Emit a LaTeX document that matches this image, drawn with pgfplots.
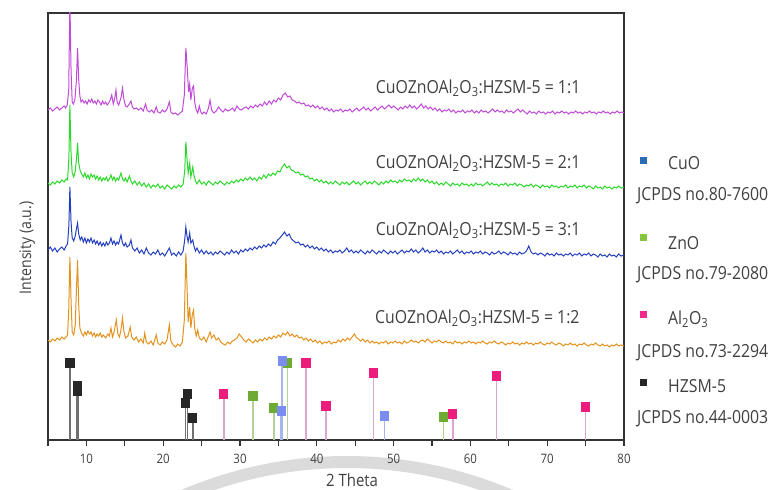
\documentclass[border=0pt]{standalone}
\usepackage{pgfplots}
\pgfplotsset{compat=1.18}
\usepackage{fontspec}
\setmainfont{Open Sans}[FakeStretch=0.88]

\definecolor{cA}{HTML}{C04BD8}
\definecolor{cB}{HTML}{2BD82B}
\definecolor{cC}{HTML}{2440C0}
\definecolor{cD}{HTML}{E3921E}
\definecolor{pinkM}{HTML}{EC1C7C}
\definecolor{pinkL}{HTML}{D8A8D0}
\definecolor{grnM}{HTML}{6EAB35}
\definecolor{grnL}{HTML}{B5D19A}
\definecolor{bluM}{HTML}{7B8CF0}
\definecolor{bluL}{HTML}{A8B4F0}
\definecolor{blkM}{HTML}{262626}
\definecolor{blkL}{HTML}{707070}
\definecolor{legCuO}{HTML}{2A6DB5}
\definecolor{legZnO}{HTML}{86C440}
\definecolor{legAl}{HTML}{F0288C}
\definecolor{txt}{HTML}{404040}

\newcommand\lab{\fontsize{18bp}{21bp}\selectfont}

\begin{document}
\begin{tikzpicture}
\useasboundingbox (-48bp,-50bp) rectangle (723bp,440bp);
% faint watermark arc of the source page
\draw[black!14, line width=12bp] (299bp,-437.8bp) ++(66:415.8bp) arc[start angle=66, end angle=114, radius=415.8bp];
\begin{axis}[
  at={(0,0)}, anchor=south west,
  scale only axis, width=576bp, height=427bp,
  xmin=5, xmax=80, ymin=0, ymax=427,
  xtick={10,20,...,80}, minor xtick={5,15,...,75},
  xtick pos=bottom, ytick=\empty,
  tick align=outside, major tick length=6bp, minor tick length=6bp,
  every tick/.style={line width=1.2bp, black!80},
  axis line style={line width=1.3bp, black!80},
  /pgf/number format/assume math mode=true,
  tick label style={font=\fontsize{13bp}{15bp}\selectfont, text=txt},
  xticklabel style={yshift=-5bp},
  xlabel={2 Theta}, ylabel={Intensity (a.u.)},
  xlabel style={at={(axis description cs:0.528,-0.094)}, anchor=center, font=\fontsize{17bp}{20bp}\selectfont, text=txt},
  ylabel style={at={(axis description cs:-0.036,0.45)}, anchor=center, font=\fontsize{16bp}{19bp}\selectfont, text=txt},
]
% ---- 1:1 (purple), offset 330
\addplot[cA, line width=1bp, y filter/.expression={y+330}] coordinates {
(5,0)(5.3,2)(5.6,-1)(5.9,1)(6.2,3)(6.5,0)(6.8,2)(7.1,4)(7.3,2)(7.5,5)(7.7,20)(7.85,110)(8.0,40)(8.15,8)(8.3,6)(8.5,10)(8.7,30)(8.85,62)(9.0,30)(9.15,14)(9.3,8)(9.5,10)(9.7,7)(9.9,9)(10.1,6)(10.3,10)(10.5,8)(10.7,11)(10.9,7)(11.1,9)(11.3,6)(11.5,10)(11.7,8)(11.9,5)(12.1,9)(12.3,6)(12.5,8)(12.7,5)(12.9,7)(13.1,10)(13.3,15)(13.5,6)(13.7,12)(13.85,20)(14.0,8)(14.2,5)(14.5,12)(14.7,22)(14.9,10)(15.1,4)(15.3,3)(15.5,5)(15.8,9)(16.0,3)(16.2,1)(16.5,2)(16.8,0)(17.1,2)(17.4,-1)(17.7,6)(17.9,0)(18.2,-2)(18.5,0)(18.8,-3)(19.1,3)(19.3,-2)(19.6,-3)(19.9,0)(20.2,-2)(20.5,1)(20.8,8)(21.0,-2)(21.3,-4)(21.6,-3)(21.9,-5)(22.2,-3)(22.5,-1)(22.75,15)(22.95,62)(23.15,40)(23.3,18)(23.45,26)(23.6,10)(23.8,22)(23.95,24)(24.1,8)(24.3,0)(24.5,-3)(24.7,4)(24.9,-2)(25.1,-4)(25.3,-2)(25.6,-4)(25.9,2)(26.1,10)(26.3,0)(26.6,-3)(26.9,-1)(27.2,3)(27.5,0)(27.8,-2)(28.1,1)(28.4,-1)(28.7,0)(29.0,2)(29.3,-1)(29.6,4)(29.9,1)(30.2,0)(30.5,2)(30.8,3)(31.1,1)(31.4,4)(31.7,2)(32.0,5)(32.3,3)(32.6,6)(32.9,4)(33.2,8)(33.5,5)(33.8,9)(34.1,6)(34.4,10)(34.7,8)(35.0,12)(35.3,10)(35.6,15)(35.9,17)(36.2,13)(36.5,14)(36.8,10)(37.1,9)(37.4,7)(37.7,8)(38.0,6)(38.3,7)(38.6,4)(38.9,5)(39.2,3)(39.5,5)(39.8,2)(40.1,4)(40.4,1)(40.7,3)(41.0,0)(41.3,2)(41.6,-1)(41.9,1)(42.2,-2)(42.5,0)(42.8,-1)(43.1,1)(43.4,-2)(43.7,0)(44.0,-1)(44.3,1)(44.6,-2)(44.9,0)(45.2,2)(45.5,-1)(45.8,1)(46.1,3)(46.4,0)(46.7,2)(47.0,-1)(47.3,1)(47.6,3)(47.9,0)(48.2,2)(48.5,4)(48.8,1)(49.1,3)(49.4,5)(49.7,2)(50.0,4)(50.3,2)(50.6,0)(50.9,3)(51.2,1)(51.5,4)(51.8,2)(52.1,5)(52.4,2)(52.7,4)(53.0,1)(53.3,3)(53.6,6)(53.9,2)(54.2,4)(54.5,1)(54.8,3)(55.1,0)(55.4,2)(55.7,-1)(56.0,1)(56.3,-2)(56.6,0)(56.9,-1)(57.2,1)(57.5,-2)(57.8,0)(58.1,-3)(58.4,-1)(58.7,-2)(59.0,0)(59.3,-3)(59.6,-1)(59.9,-2)(60.2,0)(60.5,-3)(60.8,-1)(61.1,-3)(61.4,0)(61.7,-2)(62.0,-1)(62.3,-3)(62.6,-1)(62.9,1)(63.2,-2)(63.5,0)(63.8,-2)(64.1,-1)(64.4,-3)(64.7,0)(65.0,-2)(65.3,-1)(65.6,-3)(65.9,-1)(66.2,1)(66.5,-2)(66.8,0)(67.1,-2)(67.4,-4)(67.7,-1)(68.0,-3)(68.3,-2)(68.6,-4)(68.9,-1)(69.2,-3)(69.5,-2)(69.8,-4)(70.1,-2)(70.4,-3)(70.7,-1)(71.0,-4)(71.3,-2)(71.6,-3)(71.9,-1)(72.2,-3)(72.5,-2)(72.8,-4)(73.1,-2)(73.4,-3)(73.7,-1)(74.0,-3)(74.3,-2)(74.6,-4)(74.9,-2)(75.2,-3)(75.5,-1)(75.8,-3)(76.1,-2)(76.4,-4)(76.7,-2)(77.0,-3)(77.3,-1)(77.6,-3)(77.9,-2)(78.2,-4)(78.5,-2)(78.8,-3)(79.1,-1)(79.4,-3)(79.7,-2)(80.0,-3)
};
% ---- 2:1 (green), offset 257
\addplot[cB, line width=1bp, y filter/.expression={y+257}] coordinates {
(5,0)(5.3,-2)(5.6,1)(5.9,-1)(6.2,2)(6.5,0)(6.8,3)(7.1,1)(7.35,4)(7.55,3)(7.72,25)(7.85,78)(8.0,30)(8.15,10)(8.35,6)(8.55,12)(8.72,25)(8.85,40)(9.0,20)(9.2,12)(9.4,9)(9.6,6)(9.8,10)(10.0,5)(10.2,8)(10.4,4)(10.6,9)(10.8,6)(11.0,8)(11.2,4)(11.4,7)(11.6,3)(11.8,6)(12.0,2)(12.2,5)(12.4,3)(12.6,6)(12.8,2)(13.0,4)(13.2,8)(13.4,3)(13.6,6)(13.8,2)(14.0,5)(14.2,3)(14.5,10)(14.7,4)(14.9,2)(15.1,5)(15.3,1)(15.6,7)(15.8,2)(16.0,-1)(16.3,2)(16.6,-2)(16.9,1)(17.2,-3)(17.5,0)(17.8,-4)(18.1,-1)(18.4,-5)(18.7,-2)(19.0,-4)(19.3,-1)(19.6,-5)(19.9,-3)(20.2,-6)(20.5,-2)(20.8,-4)(21.1,-6)(21.4,-3)(21.7,-5)(22.0,-2)(22.3,-4)(22.6,-1)(22.8,12)(22.95,41)(23.1,25)(23.25,10)(23.45,20)(23.6,6)(23.85,16)(24.0,8)(24.2,2)(24.4,-1)(24.7,3)(25.0,-1)(25.3,1)(25.6,-2)(25.9,2)(26.2,0)(26.5,-2)(26.8,1)(27.1,-1)(27.4,2)(27.7,0)(28.0,-2)(28.3,1)(28.6,-1)(28.9,2)(29.2,0)(29.5,3)(29.8,1)(30.1,4)(30.4,2)(30.7,5)(31.0,3)(31.3,6)(31.6,3)(31.9,5)(32.2,2)(32.5,6)(32.8,4)(33.1,8)(33.4,5)(33.7,9)(34.0,7)(34.3,10)(34.6,8)(34.9,12)(35.2,11)(35.5,16)(35.8,19)(36.1,15)(36.4,17)(36.7,13)(37.0,12)(37.3,10)(37.6,11)(37.9,8)(38.2,9)(38.5,6)(38.8,7)(39.1,4)(39.4,5)(39.7,2)(40.0,4)(40.3,1)(40.6,3)(40.9,0)(41.2,2)(41.5,-1)(41.8,1)(42.1,-1)(42.4,2)(42.7,0)(43.0,-2)(43.3,1)(43.6,-1)(43.9,1)(44.2,-2)(44.5,0)(44.8,2)(45.1,-1)(45.4,1)(45.7,-2)(46.0,0)(46.3,2)(46.6,-1)(46.9,1)(47.2,-1)(47.5,2)(47.8,0)(48.1,-2)(48.4,1)(48.7,-1)(49.0,2)(49.3,0)(49.6,3)(49.9,1)(50.2,2)(50.5,0)(50.8,3)(51.1,1)(51.4,4)(51.7,2)(52.0,3)(52.3,1)(52.6,4)(52.9,2)(53.2,5)(53.5,2)(53.8,4)(54.1,1)(54.4,3)(54.7,0)(55.0,2)(55.3,-1)(55.6,1)(55.9,-2)(56.2,0)(56.5,-2)(56.8,1)(57.1,-1)(57.4,-3)(57.7,0)(58.0,-2)(58.3,-1)(58.6,-3)(58.9,0)(59.2,-2)(59.5,-1)(59.8,-3)(60.1,-1)(60.4,-3)(60.7,0)(61.0,-2)(61.3,-1)(61.6,-3)(61.9,-1)(62.2,1)(62.5,-2)(62.8,0)(63.1,-2)(63.4,-1)(63.7,-3)(64.0,-1)(64.3,-2)(64.6,0)(64.9,-3)(65.2,-1)(65.5,-2)(65.8,0)(66.1,-3)(66.4,-1)(66.7,-2)(67.0,-4)(67.3,-2)(67.6,-3)(67.9,-1)(68.2,-4)(68.5,-2)(68.8,-3)(69.1,-5)(69.4,-2)(69.7,-4)(70.0,-3)(70.3,-5)(70.6,-2)(70.9,-4)(71.2,-3)(71.5,-5)(71.8,-3)(72.1,-4)(72.4,-2)(72.7,-5)(73.0,-3)(73.3,-4)(73.6,-2)(73.9,-5)(74.2,-3)(74.5,-4)(74.8,-2)(75.1,-5)(75.4,-3)(75.7,-4)(76.0,-6)(76.3,-3)(76.6,-5)(76.9,-4)(77.2,-6)(77.5,-3)(77.8,-5)(78.1,-4)(78.4,-6)(78.7,-4)(79.0,-5)(79.3,-3)(79.6,-5)(80.0,-4)
};
% ---- 3:1 (blue), offset 190
\addplot[cC, line width=1bp, y filter/.expression={y+190}] coordinates {
(5,0)(5.3,3)(5.6,-1)(5.9,2)(6.2,-2)(6.5,1)(6.8,3)(7.1,0)(7.35,4)(7.55,6)(7.72,25)(7.85,63)(8.0,28)(8.15,12)(8.35,9)(8.55,14)(8.72,22)(8.85,27)(9.0,16)(9.2,10)(9.4,13)(9.6,8)(9.8,12)(10.0,7)(10.2,11)(10.4,8)(10.6,12)(10.8,7)(11.0,10)(11.2,6)(11.4,9)(11.6,5)(11.8,8)(12.0,4)(12.2,7)(12.4,4)(12.6,8)(12.8,5)(13.0,7)(13.2,12)(13.4,6)(13.6,9)(13.8,5)(14.0,8)(14.2,6)(14.5,15)(14.7,7)(14.9,4)(15.1,7)(15.3,3)(15.6,5)(15.8,10)(16.0,2)(16.3,-1)(16.6,2)(16.9,-3)(17.2,0)(17.5,-4)(17.8,2)(18.1,-3)(18.4,-5)(18.7,-2)(19.0,-4)(19.3,0)(19.6,-5)(19.9,-3)(20.2,-6)(20.5,-2)(20.8,2)(21.1,-5)(21.4,-3)(21.7,-6)(22.0,-2)(22.3,-5)(22.6,-1)(22.8,10)(22.95,23)(23.1,14)(23.25,8)(23.45,17)(23.6,7)(23.85,10)(24.0,4)(24.2,-1)(24.4,2)(24.7,-3)(25.0,0)(25.3,-4)(25.6,-1)(25.9,-4)(26.2,-2)(26.5,-5)(26.8,-2)(27.1,-4)(27.4,-1)(27.7,-3)(28.0,-5)(28.3,-2)(28.6,-4)(28.9,0)(29.2,-3)(29.5,-1)(29.8,-4)(30.1,0)(30.4,-2)(30.7,1)(31.0,-1)(31.3,2)(31.6,0)(31.9,3)(32.2,1)(32.5,4)(32.8,2)(33.1,5)(33.4,3)(33.7,6)(34.0,4)(34.3,8)(34.6,6)(34.9,10)(35.2,12)(35.5,15)(35.8,18)(36.1,14)(36.4,16)(36.7,11)(37.0,9)(37.3,7)(37.6,8)(37.9,5)(38.2,6)(38.5,3)(38.8,5)(39.1,2)(39.4,4)(39.7,1)(40.0,3)(40.3,0)(40.6,2)(40.9,-1)(41.2,1)(41.5,-2)(41.8,0)(42.1,-3)(42.4,-1)(42.7,-2)(43.0,0)(43.3,-3)(43.6,-1)(43.9,2)(44.2,-2)(44.5,0)(44.8,-3)(45.1,-1)(45.4,-3)(45.7,0)(46.0,-2)(46.3,-4)(46.6,-1)(46.9,-3)(47.2,0)(47.5,-2)(47.8,-4)(48.1,-1)(48.4,-3)(48.7,0)(49.0,-2)(49.3,-4)(49.6,-1)(49.9,-3)(50.2,-1)(50.5,-4)(50.8,-2)(51.1,0)(51.4,-3)(51.7,-1)(52.0,-2)(52.3,1)(52.6,-2)(52.9,0)(53.2,-3)(53.5,-1)(53.8,2)(54.1,-2)(54.4,0)(54.7,-3)(55.0,-1)(55.3,-2)(55.6,0)(55.9,-3)(56.2,-1)(56.5,-4)(56.8,-2)(57.1,-3)(57.4,-1)(57.7,-4)(58.0,-2)(58.3,0)(58.6,-3)(58.9,-1)(59.2,-4)(59.5,-2)(59.8,-3)(60.1,-1)(60.4,-4)(60.7,-2)(61.0,-3)(61.3,-1)(61.6,-4)(61.9,-2)(62.2,-3)(62.5,-5)(62.8,-2)(63.1,-4)(63.4,-3)(63.7,-1)(64.0,-4)(64.3,-2)(64.6,-3)(64.9,-5)(65.2,-2)(65.5,-4)(65.8,-3)(66.1,-5)(66.4,-2)(66.7,-4)(67.0,-3)(67.3,-1)(67.6,4)(67.9,-2)(68.2,-4)(68.5,-3)(68.8,-5)(69.1,-3)(69.4,-4)(69.7,-6)(70.0,-3)(70.3,-5)(70.6,-4)(70.9,-6)(71.2,-3)(71.5,-5)(71.8,-4)(72.1,-6)(72.4,-4)(72.7,-5)(73.0,-3)(73.3,-6)(73.6,-4)(73.9,-5)(74.2,-3)(74.5,-6)(74.8,-4)(75.1,-5)(75.4,-3)(75.7,-6)(76.0,-4)(76.3,-5)(76.6,-7)(76.9,-4)(77.2,-6)(77.5,-5)(77.8,-7)(78.1,-4)(78.4,-6)(78.7,-5)(79.0,-7)(79.3,-4)(79.6,-6)(80.0,-5)
};
% ---- 1:2 (orange), offset 100
\addplot[cD, line width=1bp, y filter/.expression={y+100}] coordinates {
(5,0)(5.3,-2)(5.6,1)(5.9,-1)(6.2,2)(6.5,0)(6.8,3)(7.1,1)(7.35,3)(7.55,5)(7.7,30)(7.85,83)(8.0,40)(8.15,8)(8.35,5)(8.55,15)(8.7,50)(8.85,80)(9.0,35)(9.15,12)(9.35,7)(9.6,4)(9.8,8)(10.0,5)(10.2,9)(10.4,6)(10.6,8)(10.8,4)(11.0,7)(11.2,3)(11.4,6)(11.6,4)(11.8,7)(12.0,3)(12.2,5)(12.5,2)(12.8,6)(13.0,4)(13.2,12)(13.4,3)(13.6,8)(13.9,20)(14.1,6)(14.3,3)(14.5,10)(14.7,22)(14.9,8)(15.1,2)(15.4,4)(15.7,13)(15.9,3)(16.2,0)(16.5,3)(16.8,-2)(17.1,1)(17.4,-3)(17.6,7)(17.8,-2)(18.1,-4)(18.4,-1)(18.7,-5)(19.1,5)(19.3,-3)(19.6,-5)(19.9,-2)(20.2,-4)(20.5,0)(20.8,15)(21.0,-1)(21.3,-5)(21.6,-7)(21.9,-4)(22.2,-6)(22.5,-2)(22.75,20)(22.95,87)(23.1,55)(23.25,18)(23.45,33)(23.6,12)(23.8,26)(23.95,30)(24.1,12)(24.3,4)(24.5,10)(24.7,2)(25.0,0)(25.3,3)(25.6,-2)(25.9,4)(26.1,8)(26.3,2)(26.6,5)(26.9,0)(27.2,2)(27.5,-2)(27.8,-4)(28.1,-5)(28.4,-2)(28.7,-4)(29.0,-1)(29.3,0)(29.6,2)(29.9,6)(30.2,3)(30.5,0)(30.8,-2)(31.1,1)(31.4,-1)(31.7,-3)(32.0,0)(32.3,-2)(32.6,1)(32.9,-1)(33.2,2)(33.5,0)(33.8,3)(34.1,1)(34.4,4)(34.7,2)(35.0,5)(35.3,3)(35.6,7)(35.9,5)(36.2,8)(36.5,4)(36.8,6)(37.1,3)(37.4,5)(37.7,2)(38.0,3)(38.3,0)(38.6,2)(38.9,-1)(39.2,1)(39.5,-2)(39.8,0)(40.1,-3)(40.4,-1)(40.7,-4)(41.0,-2)(41.3,-3)(41.6,-1)(41.9,-4)(42.2,-2)(42.5,-3)(42.8,0)(43.1,-2)(43.4,1)(43.7,-1)(44.0,2)(44.3,0)(44.6,3)(44.9,6)(45.1,3)(45.4,1)(45.7,-1)(46.0,1)(46.3,-2)(46.6,0)(46.9,-3)(47.2,-1)(47.5,-3)(47.8,-2)(48.1,-4)(48.4,-2)(48.7,-3)(49.0,-1)(49.3,-4)(49.6,-2)(49.9,-3)(50.2,-1)(50.5,-3)(50.8,-2)(51.1,-4)(51.4,-1)(51.7,-3)(52.0,-2)(52.3,0)(52.6,-2)(52.9,-1)(53.2,-3)(53.5,-1)(53.8,0)(54.1,-2)(54.4,1)(54.7,-1)(55.0,-3)(55.3,-1)(55.6,-2)(55.9,0)(56.2,-2)(56.5,-3)(56.8,-1)(57.1,-3)(57.4,-2)(57.7,-4)(58.0,-1)(58.3,-3)(58.6,-2)(58.9,-4)(59.2,-2)(59.5,-3)(59.8,-1)(60.1,-3)(60.4,-2)(60.7,-4)(61.0,-2)(61.3,-3)(61.6,-1)(61.9,-3)(62.2,-4)(62.5,-2)(62.8,-3)(63.1,-1)(63.4,-3)(63.7,-4)(64.0,-2)(64.3,-3)(64.6,-5)(64.9,-3)(65.2,-4)(65.5,-2)(65.8,-4)(66.1,-3)(66.4,-5)(66.7,-3)(67.0,-4)(67.3,-2)(67.6,-4)(67.9,-3)(68.2,-5)(68.5,-3)(68.8,-4)(69.1,-2)(69.4,-4)(69.7,-5)(70.0,-3)(70.3,-4)(70.6,-2)(70.9,-4)(71.2,-5)(71.5,-3)(71.8,-4)(72.1,-6)(72.4,-4)(72.7,-5)(73.0,-3)(73.3,-5)(73.6,-4)(73.9,-6)(74.2,-4)(74.5,-5)(74.8,-3)(75.1,-5)(75.4,-6)(75.7,-4)(76.0,-5)(76.3,-3)(76.6,-5)(76.9,-6)(77.2,-4)(77.5,-6)(77.8,-5)(78.1,-7)(78.4,-5)(78.7,-6)(79.0,-4)(79.3,-6)(79.6,-5)(80.0,-6)
};
% ---- reference patterns (sticks)
\addplot[ycomb, draw=blkL, line width=1.6bp, mark=square*, mark size=3.8pt, mark options={fill=blkM, draw=blkM}]
  coordinates {(7.86,77) (8.8,49) (8.88,54) (22.9,37) (23.15,46) (23.85,22)};
\addplot[ycomb, draw=pinkL, line width=1.6bp, mark=square*, mark size=3.8pt, mark options={fill=pinkM, draw=pinkM}]
  coordinates {(27.9,46) (38.6,77) (41.2,34) (47.4,67) (57.7,26) (63.4,64) (75.0,33)};
\addplot[ycomb, draw=grnL, line width=1.6bp, mark=square*, mark size=3.8pt, mark options={fill=grnM, draw=grnM}]
  coordinates {(31.7,44) (34.4,32) (36.2,77) (56.5,23)};
\addplot[ycomb, draw=bluL, line width=1.6bp, mark=square*, mark size=3.8pt, mark options={fill=bluM, draw=bluM}]
  coordinates {(35.5,79) (35.35,29) (48.8,24)};
% ---- trace labels
\node[font=\lab, text=txt] at (axis cs:61,352) {CuOZnOAl\textsubscript{2}O\textsubscript{3}:HZSM-5 = 1:1};
\node[font=\lab, text=txt] at (axis cs:61,277) {CuOZnOAl\textsubscript{2}O\textsubscript{3}:HZSM-5 = 2:1};
\node[font=\lab, text=txt] at (axis cs:61,210) {CuOZnOAl\textsubscript{2}O\textsubscript{3}:HZSM-5 = 3:1};
\node[font=\lab, text=txt] at (axis cs:60.9,122) {CuOZnOAl\textsubscript{2}O\textsubscript{3}:HZSM-5 = 1:2};
\end{axis}
% ---- legend
\begin{scope}[every node/.style={font=\lab, text=txt, inner sep=0pt}]
\node[fill=legCuO, minimum size=7bp] at (595bp,279bp) {};
\node[anchor=west] at (620bp,277bp) {CuO};
\node[anchor=west] at (589bp,244bp) {JCPDS no.80-7600};
\node[fill=legZnO, minimum size=7bp] at (595bp,202bp) {};
\node[anchor=west] at (620bp,197bp) {ZnO};
\node[anchor=west] at (589bp,165bp) {JCPDS no.79-2080};
\node[fill=legAl, minimum size=7bp] at (595bp,125bp) {};
\node[anchor=west] at (620bp,121bp) {Al\textsubscript{2}O\textsubscript{3}};
\node[anchor=west] at (589bp,87bp) {JCPDS no.73-2294};
\node[fill=blkM, minimum size=7bp] at (595bp,57bp) {};
\node[anchor=west] at (620bp,54bp) {HZSM-5};
\node[anchor=west] at (589bp,21bp) {JCPDS no.44-0003};
\end{scope}
\end{tikzpicture}
\end{document}
